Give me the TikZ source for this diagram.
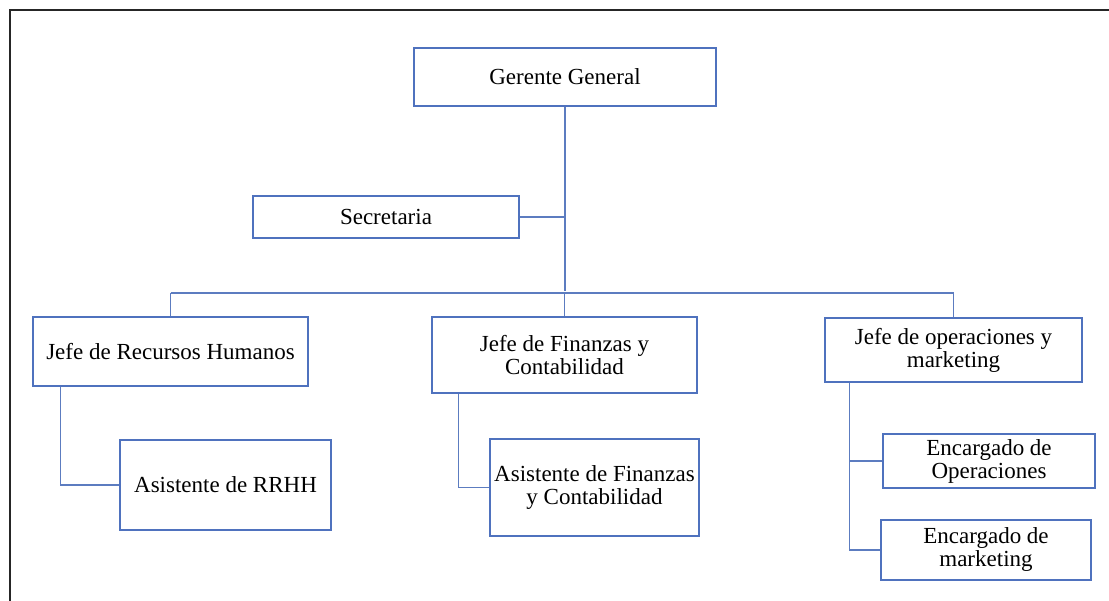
\documentclass[tikz,border=0pt]{standalone}
\usepackage{fontspec}
\setmainfont{Liberation Serif}
\definecolor{boxblue}{RGB}{79,114,190}
\definecolor{lineblue}{RGB}{92,124,192}
\begin{document}
\begin{tikzpicture}[x=1pt,y=-1pt,
  box/.style={draw=boxblue,line width=1.4pt,inner sep=0pt,align=center,
    font=\fontsize{23}{23}\selectfont},
  conn/.style={draw=lineblue,line width=1.5pt}]
\useasboundingbox (0,0) rectangle (1109,601);
% outer frame
\draw[line width=2pt,black!85] (9.5,601) -- (9.5,10.5) -- (1109,10.5);
% nodes
\node[box,minimum width=302pt,minimum height=58pt] (gg) at (565,77) {Gerente General};
\node[box,minimum width=266pt,minimum height=42pt] (sec) at (386,217) {Secretaria};
\node[box,minimum width=275pt,minimum height=69pt] (jrh) at (170.5,351.5) {Jefe de Recursos Humanos};
\node[box,minimum width=265pt,minimum height=76pt] (jf) at (564.5,355) {Jefe de Finanzas y\\Contabilidad};
\node[box,minimum width=257pt,minimum height=64pt] (jo) at (953.5,350) {Jefe de operaciones y\\marketing};
\node[box,minimum width=211pt,minimum height=90pt] (arh) at (225.5,485) {Asistente de RRHH};
\node[box,minimum width=209pt,minimum height=97pt] (af) at (594.5,487.5) {Asistente de Finanzas\\y Contabilidad};
\node[box,minimum width=212pt,minimum height=54pt] (eo) at (989,461) {Encargado de\\Operaciones};
\node[box,minimum width=210pt,minimum height=60pt] (em) at (986,550) {Encargado de\\marketing};
% bus coordinates
\coordinate (busL) at (170.5,293);
\coordinate (busR) at (953.5,293);
% connectors
\draw[conn,line width=2pt] (gg.south) -- ([yshift=2pt]gg.south |- busL);
\draw[conn] (sec.east) -- (sec.east -| gg.south);
\draw[conn] (busL) -- (busR);
\draw[conn] (busL) -- (jrh.north);
\draw[conn] (jf.north |- busL) -- (jf.north);
\draw[conn] (busR) -- (jo.north);
\draw[conn] ([xshift=28pt]jrh.south west) |- (arh.west);
\draw[conn] ([xshift=27pt]jf.south west) |- (af.west);
\draw[conn] ([xshift=25pt]jo.south west) |- (eo.west);
\draw[conn] ([xshift=25pt]jo.south west) |- (em.west);
\end{tikzpicture}
\end{document}
